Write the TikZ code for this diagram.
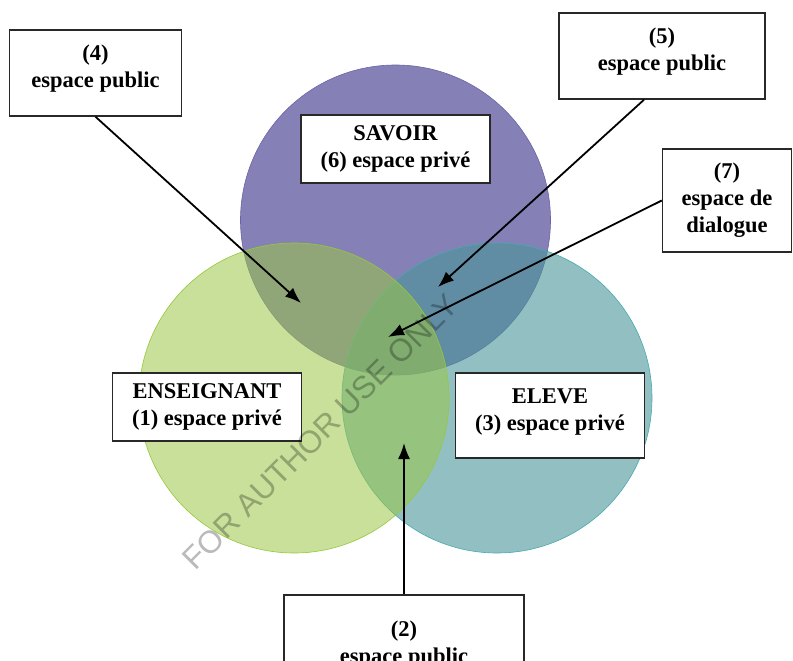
\documentclass[tikz,border=0pt]{standalone}
\usepackage{fontspec}
\setmainfont{Liberation Serif}
\newfontfamily\wmfont{Liberation Sans}
\usetikzlibrary{shapes,arrows.meta}

\definecolor{savoirc}{RGB}{133,128,181}
\definecolor{savoirl}{RGB}{105,100,168}
\definecolor{elevec}{RGB}{73,150,153}
\definecolor{elevel}{RGB}{70,170,175}
\definecolor{enseic}{RGB}{155,198,71}
\definecolor{enseil}{RGB}{150,200,60}
\definecolor{boxc}{RGB}{40,40,40}

\begin{document}
\begin{tikzpicture}[x=1pt,y=-1pt,
  zone/.style={circle,minimum size=310pt,inner sep=0pt,line width=0.6pt},
  boite/.style={draw=boxc,line width=1.5pt,fill=white,align=center,inner sep=0pt,
    font=\bfseries\fontsize{22.5}{27}\selectfont},
  fleche/.style={-{Latex[length=16pt,width=12pt]},line width=1.8pt}]
\useasboundingbox (0,0) rectangle (793,661);
% the three circles
\node[zone,fill=savoirc,draw=savoirl] (S) at (395.5,220) {};
\node[zone,fill=elevec,fill opacity=0.6,draw=elevel] (EL) at (497,398) {};
\node[zone,fill=enseic,fill opacity=0.55,draw=enseil] (EN) at (294,398) {};
% labels
\node[boite,minimum width=189pt,minimum height=68pt] (bS) at (395.5,149) {SAVOIR\\(6) espace privé};
\node[boite,minimum width=189pt,minimum height=68pt] (bEN) at (207,407) {ENSEIGNANT\\(1) espace privé};
\node[boite,minimum width=189pt,minimum height=85pt,text depth=11pt] (bEL) at (550,415.5) {ELEVE\\(3) espace privé};
\node[boite,minimum width=172pt,minimum height=86pt,text depth=14pt] (b4) at (95.5,73) {(4)\\espace public};
\node[boite,minimum width=206pt,minimum height=86pt,text depth=14pt] (b5) at (662,56) {(5)\\espace public};
\node[boite,minimum width=129pt,minimum height=103pt] (b7) at (727,200.5) {(7)\\espace de\\dialogue};
\node[boite,minimum width=240pt,minimum height=100pt] (b2) at (404,645) {(2)\\espace public};
% arrow tips
\coordinate (z4) at (301,303);
\coordinate (z5) at (438,287);
\coordinate (z7) at (388,337);
\coordinate (z2) at (404,443);
\path[fleche]
  (b4.south) edge (z4)
  ([xshift=-18pt]b5.south) edge (z5)
  (b7.west) edge (z7)
  (b2.north) edge (z2)
;
% watermark
\node[font=\wmfont\fontsize{31.5}{36}\selectfont,text=black,text opacity=0.27,rotate=45] (wm) at (320,432) {FOR AUTHOR USE ONLY};
\end{tikzpicture}
\end{document}
